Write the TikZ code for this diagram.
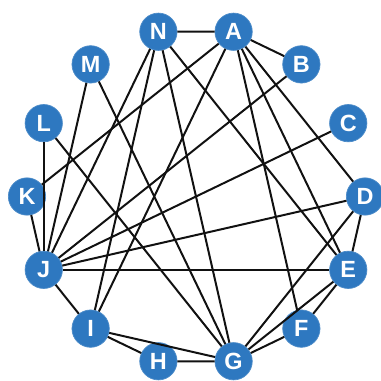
\documentclass[tikz,border=0pt]{standalone}
\usepackage{fontspec}
\setsansfont{Liberation Sans}
\usepackage{tikz}
\definecolor{graphblue}{HTML}{2E78C0}
\definecolor{graphdark}{HTML}{111111}

\begin{document}
\begin{tikzpicture}[x=0.03cm,y=0.03cm,
    vertex/.style={circle,fill=graphblue,draw=graphblue!85!white,line width=0.6pt,
      inner sep=0pt,minimum size=1.12cm,text=white,
      font=\sffamily\bfseries\fontsize{20}{20}\selectfont},
    link/.style={draw=graphdark,line width=1.7pt}]
  \useasboundingbox[fill=white] (-196,-184.5) rectangle (185,196.5);
  % fourteen vertices round the ring, D at the right
  \foreach \name [count=\i from 0] in {D,E,F,G,H,I,J,K,L,M,N,A,B,C}
    \node[vertex] (\name) at ({-\i*360/14}:169) {\name};
  % edges
  \foreach \a/\b in {N/A,A/B,A/D,A/E,A/F,A/I,A/K,
                     N/J,N/I,N/G,N/E,M/J,M/G,L/J,L/G,K/J,
                     B/J,C/J,D/J,D/E,D/G,E/J,E/G,E/F,
                     F/G,G/H,G/I,H/I,I/J}
    \draw[link] (\a) -- (\b);
\end{tikzpicture}
\end{document}
